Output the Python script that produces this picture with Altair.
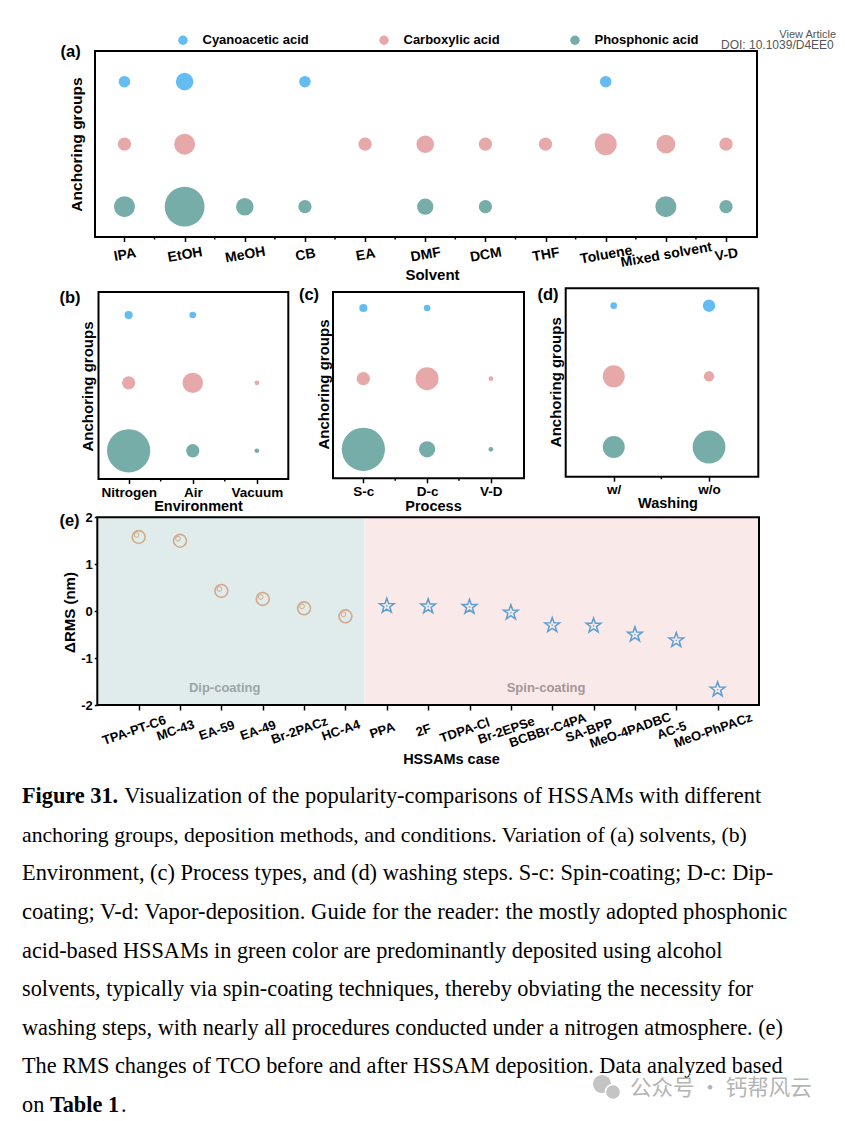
import altair as alt
import pandas as pd

# ---------------- data ----------------
GROUPS = ["Cyanoacetic acid", "Carboxylic acid", "Phosphonic acid"]
GROUP_ROW = [2, 1, 0]
GROUP_COLORS = ["#63bdf3", "#e7a8aa", "#77ada8"]

SOLVENTS = ["IPA", "EtOH", "MeOH", "CB", "EA", "DMF", "DCM", "THF", "Toluene", "Mixed solvent", "V-D"]
SOLV_CYANO = [3, 7, 0, 3, 0, 0, 0, 0, 3, 0, 0]
SOLV_CARBOX = [4, 10, 0, 0, 4, 7, 4, 4, 11, 8, 4]
SOLV_PHOS = [10, 36, 7, 4, 0, 6, 4, 0, 0, 10, 4]

ENVS = ["Nitrogen", "Air", "Vacuum"]
ENV_CYANO = [3, 2, 0]
ENV_CARBOX = [8, 19, 1]
ENV_PHOS = [85, 8, 1]

PROCS = ["S-c", "D-c", "V-D"]
PROC_CYANO = [3, 2, 0]
PROC_CARBOX = [8, 24, 1]
PROC_PHOS = [85, 12, 1]

WASH = ["w/", "w/o"]
WASH_CYANO = [2, 7]
WASH_CARBOX = [22, 5]
WASH_PHOS = [22, 49]

CASES = ["TPA-PT-C6", "MC-43", "EA-59", "EA-49", "Br-2PACz", "HC-A4", "PPA", "2F",
         "TDPA-Cl", "Br-2EPSe", "BCBBr-C4PA", "SA-BPP", "MeO-4PADBC", "AC-5", "MeO-PhPACz"]
DELTA_RMS = [1.58, 1.50, 0.43, 0.26, 0.06, -0.11, 0.11, 0.10, 0.09, -0.03, -0.30, -0.31, -0.50, -0.62, -1.67]
CASE_METHOD = ["Dip-coating", "Dip-coating", "Dip-coating", "Dip-coating", "Dip-coating", "Dip-coating",
               "Spin-coating", "Spin-coating", "Spin-coating", "Spin-coating", "Spin-coating",
               "Spin-coating", "Spin-coating", "Spin-coating", "Spin-coating"]

REGIONS = ["Dip-coating", "Spin-coating"]
REGION_START = [-1, 5.46]
REGION_END = [5.46, 15]

CAPTION_BOLD_HEAD = "Figure 31."
CAPTION_LINES = [
    "Visualization of the popularity-comparisons of HSSAMs with different",
    "anchoring groups, deposition methods, and conditions. Variation of (a) solvents, (b)",
    "Environment, (c) Process types, and (d) washing steps. S-c: Spin-coating; D-c: Dip-",
    "coating; V-d: Vapor-deposition. Guide for the reader: the mostly adopted phosphonic",
    "acid-based HSSAMs in green color are predominantly deposited using alcohol",
    "solvents, typically via spin-coating techniques, thereby obviating the necessity for",
    "washing steps, with nearly all procedures conducted under a nitrogen atmosphere. (e)",
    "The RMS changes of TCO before and after HSSAM deposition. Data analyzed based",
    "on",
]
CAPTION_BOLD_TAIL = "Table 1"
WATERMARK = "公众号 · 钙帮风云"

# ---------------- style / layout ----------------
FONT = "Liberation Sans, Arial, Helvetica, sans-serif"
SERIF = "Liberation Serif, Times New Roman, serif"
CJK = "Noto Sans CJK SC, sans-serif"
REGION_FILL = ["#e0ecec", "#fae9e9"]
REGION_TEXT = ["#9aa6a6", "#a39697"]
CIRCLE_COLOR = "#d2a98a"
STAR_COLOR = "#5b9fd3"
STAR = ("M0,-1L0.235,-0.324L0.951,-0.309L0.380,0.124L0.588,0.809L0,0.4"
        "L-0.588,0.809L-0.380,0.124L-0.951,-0.309L-0.235,-0.324Z")
CAPTION_FONT_SIZES = [22.4, 21.7, 22.4, 22.6, 22.3, 22.3, 22.3, 22.3, 22.3]

W, H = 829, 1110          # whole canvas (page minus the 8px margin)
M = 8                      # page margin


def box(x0, y0, x1, y1):   # page coordinates -> canvas coordinates
    return (x0 - M, y0 - M, x1 - M, y1 - M)


BOX_A = box(95, 51, 757, 237)
BOX_B = box(98.5, 292, 288.3, 479)
BOX_C = box(333, 292, 524, 478.3)
BOX_D = box(565.7, 288.3, 758.3, 476.7)
BOX_E = box(97.3, 517.3, 759, 705)


def label_expr(cats):
    return "[" + ",".join(repr(c) for c in cats) + "][round(datum.value)]"


def bubble_frame(cats, series):
    recs = []
    for g, r, vals in zip(GROUPS, GROUP_ROW, series):
        for i, (c, v) in enumerate(zip(cats, vals)):
            if v > 0:
                recs.append(dict(idx=i, cat=c, group=g, row=r, count=v))
    return pd.DataFrame(recs)


def xaxis(cats, bx, title, tx, ty, angle, pad, lsize, tsize, offset=0, ticksize=4.5):
    return alt.Axis(orient="bottom", offset=bx[3] - H,
                    values=list(range(len(cats))), labelExpr=label_expr(cats), title=title,
                    grid=False, domain=False, ticks=True, tickSize=ticksize, tickWidth=1.5,
                    tickColor="black", labelAngle=angle, labelAlign="center",
                    labelBaseline="middle", labelPadding=pad, labelOffset=offset,
                    labelFont=FONT, labelFontSize=lsize, labelFontWeight="bold",
                    labelColor="black", labelOverlap=False, labelFlush=False,
                    titleFont=FONT, titleFontSize=tsize, titleFontWeight="bold",
                    titleColor="black", titleX=tx - M, titleY=ty, titleAlign="center",
                    titleBaseline="middle", titleAngle=0)


def anchoring_axis(bx, tx, ty, size):
    return alt.Axis(orient="left", offset=-bx[0],
                    title="Anchoring groups", labels=False, ticks=False, domain=False, grid=False,
                    titleFont=FONT, titleFontSize=size, titleFontWeight="bold", titleColor="black",
                    titleAngle=270, titleX=tx, titleY=ty - M, titleAlign="center",
                    titleBaseline="middle")


def one_row():
    return pd.DataFrame({"a": [0]})


def text_layer(t, x, y, **kw):
    return alt.Chart(pd.DataFrame({"t": [t]})).mark_text(**kw).encode(
        text="t:N", x=alt.value(x - M), y=alt.value(y - M))


def letter_layer(letter, x, y):
    return text_layer(letter, x, y, font=FONT, fontSize=16.5, fontWeight="bold", color="black",
                      align="center", baseline="middle")


def frame_layer(bx):
    return alt.Chart(one_row()).mark_rect(filled=False, stroke="black", strokeWidth=2).encode(
        x=alt.value(bx[0]), x2=alt.value(bx[2]), y=alt.value(bx[1]), y2=alt.value(bx[3]))


def bubble_panel(cats, series, bx, xdom, ydom, unit, xax, yax, letter, lx, ly,
                 legend=None, extra=None):
    df = bubble_frame(cats, series)
    xe = alt.X("idx:Q", scale=alt.Scale(domain=xdom, range=[bx[0], bx[2]], nice=False, zero=False), axis=xax)
    ye = alt.Y("row:Q", scale=alt.Scale(domain=ydom, range=[bx[3], bx[1]], nice=False, zero=False), axis=yax)
    pts = alt.Chart(df).mark_circle(opacity=1).encode(
        x=xe, y=ye,
        color=alt.Color("group:N", scale=alt.Scale(domain=GROUPS, range=GROUP_COLORS), legend=legend),
        size=alt.Size("count:Q", scale=alt.Scale(type="linear", domain=[0, 100], range=[0, 100 * unit]),
                      legend=None))
    minor = alt.Chart(pd.DataFrame({"idx": [i + 0.5 for i in range(len(cats) - 1)]})).mark_rule(
        color="black", strokeWidth=1.5).encode(x=xe, y=alt.value(bx[3]), y2=alt.value(bx[3] + 2.5))
    layers = [pts, minor, frame_layer(bx), letter_layer(letter, lx, ly)] + (extra or [])
    return alt.layer(*layers)


# ---------------- panel (a) ----------------
legend_a = alt.Legend(orient="none", legendX=176.5 - M, legendY=33.5 - M, direction="horizontal", title=None,
                      labelFont=FONT, labelFontSize=13, labelFontWeight="bold", labelColor="black",
                      symbolSize=90, symbolType="circle", labelOffset=13, columnPadding=68,
                      padding=0, symbolStrokeWidth=0, symbolOpacity=1)
extra_a = [
    text_layer("View Article", 836, 35, font=FONT, fontSize=11, color="#555555", align="right", baseline="middle"),
    text_layer("DOI: 10.1039/D4EE0", 721, 45, font=FONT, fontSize=12, color="#555555", align="left", baseline="middle"),
]
panel_a = bubble_panel(
    SOLVENTS, [SOLV_CYANO, SOLV_CARBOX, SOLV_PHOS], BOX_A, [-0.49, 10.515], [-0.485, 2.49], 44,
    xaxis(SOLVENTS, BOX_A, "Solvent", 432, 37.5, 350, 13, 14, 15),
    anchoring_axis(BOX_A, -19, 144, 15.5), "(a)", 70.6, 51.7, legend=legend_a, extra=extra_a)

# ---------------- panels (b)(c)(d) ----------------
panel_b = bubble_panel(
    ENVS, [ENV_CYANO, ENV_CARBOX, ENV_PHOS], BOX_B, [-0.47, 2.49], [-0.416, 2.338], 22,
    xaxis(ENVS, BOX_B, "Environment", 198, 27, 0, 8.5, 13.5, 14.5),
    anchoring_axis(BOX_B, -11, 386, 15), "(b)", 70, 298)
panel_c = bubble_panel(
    PROCS, [PROC_CYANO, PROC_CARBOX, PROC_PHOS], BOX_C, [-0.476, 2.52], [-0.41, 2.226], 22,
    xaxis(PROCS, BOX_C, "Process", 433, 27.7, 0, 8.4, 13.5, 14.5),
    anchoring_axis(BOX_C, -10, 384, 15), "(c)", 309, 295)
panel_d = bubble_panel(
    WASH, [WASH_CYANO, WASH_CARBOX, WASH_PHOS], BOX_D, [-0.504, 1.517], [-0.42, 2.246], 22,
    xaxis(WASH, BOX_D, "Washing", 667.5, 26.7, 0, 8.3, 13.5, 14.5),
    anchoring_axis(BOX_D, -10, 381.7, 15), "(d)", 548, 294.5)

# ---------------- panel (e) ----------------
rms_df = pd.DataFrame({"idx": list(range(len(CASES))), "case": CASES, "rms": DELTA_RMS, "method": CASE_METHOD})
xe = alt.X("idx:Q", scale=alt.Scale(domain=[-1, 15], range=[BOX_E[0], BOX_E[2]], nice=False, zero=False),
           axis=xaxis(CASES, BOX_E, "HSSAMs case", 451, 54, 341, 20, 13, 14.5, offset=-5, ticksize=5))
ye = alt.Y("rms:Q", scale=alt.Scale(domain=[-2, 2], range=[BOX_E[3], BOX_E[1]], nice=False, zero=False),
           axis=alt.Axis(orient="left", offset=-BOX_E[0],
                         values=[-2, -1, 0, 1, 2], labelExpr="'' + datum.value", title="ΔRMS (nm)",
                         grid=False, domain=False, tickSize=3, tickWidth=1.5, tickColor="black",
                         labelFont=FONT, labelFontSize=13, labelFontWeight="bold", labelColor="black",
                         labelPadding=2, labelFlush=False, titleFont=FONT, titleFontSize=15,
                         titleFontWeight="bold", titleColor="black", titleX=-28, titleY=612 - M,
                         titleAngle=270, titleAlign="center", titleBaseline="middle"))

LABEL_X = [2.08, 9.85]
LABEL_Y = [-1.64, -1.64]
e_layers = []
for k, reg in enumerate(REGIONS):
    e_layers.append(alt.Chart(pd.DataFrame({"idx": [REGION_START[k]], "idx_end": [REGION_END[k]]})).mark_rect(
        color=REGION_FILL[k]).encode(x=xe, x2="idx_end:Q", y=alt.value(BOX_E[1]), y2=alt.value(BOX_E[3])))
for k, reg in enumerate(REGIONS):
    e_layers.append(alt.Chart(pd.DataFrame({"idx": [LABEL_X[k]], "rms": [LABEL_Y[k]], "t": [reg]})).mark_text(
        font=FONT, fontSize=13, fontWeight="bold", color=REGION_TEXT[k], align="center",
        baseline="middle").encode(x=xe, y=ye, text="t:N"))

base_e = alt.Chart(rms_df)
dip = base_e.transform_filter(alt.datum.method == "Dip-coating")
spin = base_e.transform_filter(alt.datum.method == "Spin-coating")
e_layers += [
    dip.mark_point(shape="circle", filled=False, stroke=CIRCLE_COLOR, strokeWidth=1.6, size=165, opacity=1).encode(x=xe, y=ye),
    dip.mark_point(shape="circle", filled=False, stroke=CIRCLE_COLOR, strokeWidth=1, size=22, opacity=1,
                   xOffset=-2, yOffset=-2).encode(x=xe, y=ye),
    spin.mark_point(shape=STAR, filled=False, stroke=STAR_COLOR, strokeWidth=1.5, size=240, opacity=1).encode(x=xe, y=ye),
    spin.mark_point(shape="circle", filled=True, color=STAR_COLOR, size=3, opacity=0.8).encode(x=xe, y=ye),
    frame_layer(BOX_E),
    letter_layer("(e)", 69.5, 521),
]
panel_e = alt.layer(*e_layers)

# ---------------- caption ----------------
cy = alt.Y("line:Q", scale=alt.Scale(domain=[0, 8], range=[803.3 - M, 1111.7 - M]), axis=None)
cap_df = pd.DataFrame({"line": list(range(len(CAPTION_LINES))), "t": CAPTION_LINES})


def cap_text(df, bold, dx, size=22.3):
    return alt.Chart(df).mark_text(font=SERIF, fontSize=size, fontWeight="bold" if bold else "normal",
                                   color="black", align="left", baseline="alphabetic", dx=dx).encode(
        x=alt.value(22 - M), y=cy, text="t:N")


cap_layers = []
for k in range(len(CAPTION_LINES)):
    cap_layers.append(cap_text(cap_df[cap_df.line == k], False, 102.2 if k == 0 else 0,
                               CAPTION_FONT_SIZES[k]))
cap_layers += [
    cap_text(pd.DataFrame({"line": [0], "t": [CAPTION_BOLD_HEAD]}), True, 0),
    cap_text(pd.DataFrame({"line": [8], "t": [CAPTION_BOLD_TAIL]}), True, 27.9),
    cap_text(pd.DataFrame({"line": [8], "t": ["."]}), False, 99.1),
    # watermark (icon + text)
    alt.Chart(one_row()).mark_point(shape="circle", filled=True, color="#c4c4c4", size=330, opacity=1).encode(
        x=alt.value(602 - M), y=alt.value(1084 - M)),
    alt.Chart(one_row()).mark_point(shape="circle", filled=True, color="#c4c4c4", size=230, opacity=1,
                                    stroke="white", strokeWidth=1.5).encode(
        x=alt.value(613 - M), y=alt.value(1092 - M)),
    text_layer(WATERMARK, 630, 1088.5, font=CJK, fontSize=21.5, color="#b4b4b4", align="left", baseline="middle"),
]
caption = alt.layer(*cap_layers)

# ---------------- assemble ----------------
chart = alt.layer(panel_a, panel_b, panel_c, panel_d, panel_e, caption).resolve_scale(
    x="independent", y="independent", color="independent", size="independent"
).resolve_axis(x="independent", y="independent").properties(
    width=W, height=H, padding=0, autosize=alt.AutoSizeParams(type="none"), background="white"
).configure(font=FONT).configure_view(stroke="transparent", strokeWidth=0)

chart.save("out.html", embed_options={"renderer": "svg", "actions": False})
